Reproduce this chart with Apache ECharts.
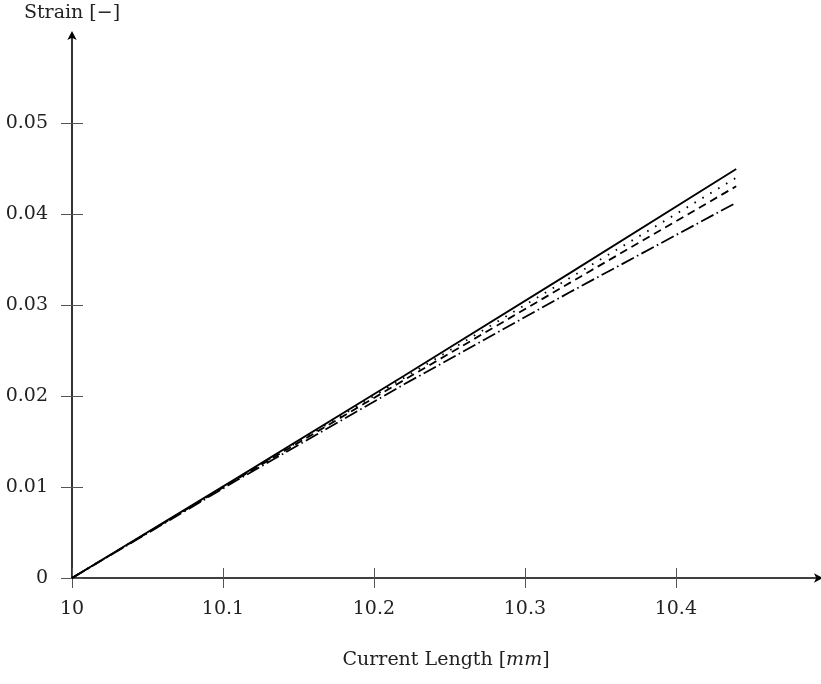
<!DOCTYPE html>
<html>
<head>
<meta charset="utf-8">
<script src="https://cdn.jsdelivr.net/npm/echarts@6/dist/echarts.min.js"></script>
<style>
  html, body { margin: 0; padding: 0; background: #fff; }
  #chart { width: 821px; height: 684px; }
</style>
</head>
<body>
<div id="chart"></div>
<script>
// Current length samples [mm]
const lengths = [10, 10.11, 10.22, 10.33, 10.44];

// Strain measures against current length
const strainSolid   = [0, 0.01106, 0.02224, 0.03354, 0.04497];
const strainDotted  = [0, 0.01100, 0.02200, 0.03300, 0.04400];
const strainDashed  = [0, 0.01094, 0.02176, 0.03247, 0.04306];
const strainDashDot = [0, 0.01082, 0.02129, 0.03144, 0.04126];

// Tick positions
const xTicks = [10, 10.1, 10.2, 10.3, 10.4];
const yTicks = [0, 0.01, 0.02, 0.03, 0.04, 0.05];

const X_MIN = 10, X_MAX = 10.4955;
const Y_MIN = 0, Y_MAX = 0.0598;

const FONT = '"DejaVu Serif", "Liberation Serif", serif';
const FONT_SIZE = 19;
const TEXT_COLOR = '#222';
const TICK_COLOR = '#555';

const GRID = { left: 72, right: 1, top: 34, bottom: 106 };
const gridW = 821 - GRID.left - GRID.right;
const gridH = 684 - GRID.top - GRID.bottom;

function pairs(xs, ys) {
  return xs.map((x, i) => [x, ys[i]]);
}

function fmtY(v) {
  return v === 0 ? '0' : String(+v.toFixed(2));
}

const chart = echarts.init(document.getElementById('chart'), null, { renderer: 'canvas' });

const lineBase = { type: 'line', showSymbol: false, symbol: 'none', smooth: false, silent: true, animation: false };

// tick-only helper axis laid over an edge of the plot
function tickAxis(min, max, position, offset, values, length, inside) {
  return {
    type: 'value', min: min, max: max, position: position, offset: offset,
    axisLine: { show: false },
    axisTick: { show: true, inside: inside, length: length, customValues: values,
      lineStyle: { color: TICK_COLOR, width: 1 } },
    axisLabel: { show: false },
    splitLine: { show: false }
  };
}

chart.setOption({
  animation: false,
  backgroundColor: '#fff',
  grid: GRID,
  xAxis: [
    {
      type: 'value', min: X_MIN, max: X_MAX, position: 'bottom',
      axisLine: { show: true, onZero: false, symbol: ['none', 'arrow'], symbolSize: [7, 9], symbolOffset: [0, 3],
        lineStyle: { color: '#000', width: 1.6 } },
      axisTick: { show: true, inside: false, length: 10, customValues: xTicks,
        lineStyle: { color: TICK_COLOR, width: 1 } },
      axisLabel: { show: true, customValues: xTicks, margin: 22,
        fontFamily: FONT, fontSize: FONT_SIZE, color: TEXT_COLOR,
        formatter: v => String(+v.toFixed(1)) },
      splitLine: { show: false },
      name: '{r|Current Length [}{i|mm}{r|]}',
      nameLocation: 'middle', nameGap: 73,
      nameTextStyle: {
        rich: {
          r: { fontFamily: FONT, fontSize: FONT_SIZE, color: TEXT_COLOR },
          i: { fontFamily: FONT, fontSize: FONT_SIZE, fontStyle: 'italic', color: TEXT_COLOR }
        }
      }
    },
    // upper half of the crossing ticks on the x axis
    tickAxis(X_MIN, X_MAX, 'top', -gridH, xTicks, 10, false),
    // lower half of the tick at the origin
    tickAxis(X_MIN, X_MAX, 'top', -gridH, [X_MIN], 10, true)
  ],
  yAxis: [
    {
      type: 'value', min: Y_MIN, max: Y_MAX, position: 'left',
      axisLine: { show: true, onZero: false, symbol: ['none', 'arrow'], symbolSize: [7, 9], symbolOffset: [0, 3],
        lineStyle: { color: '#000', width: 1.6 } },
      axisTick: { show: true, inside: false, length: 11, customValues: yTicks,
        lineStyle: { color: TICK_COLOR, width: 1 } },
      axisLabel: { show: true, customValues: yTicks, margin: 24,
        fontFamily: FONT, fontSize: FONT_SIZE, color: TEXT_COLOR, formatter: fmtY },
      splitLine: { show: false },
      name: 'Strain [−]',
      nameLocation: 'end', nameGap: 11,
      nameTextStyle: { fontFamily: FONT, fontSize: FONT_SIZE, color: TEXT_COLOR, align: 'center' }
    },
    // right half of the crossing ticks on the y axis
    tickAxis(Y_MIN, Y_MAX, 'right', -gridW, yTicks, 11, false),
    // left half of the tick at the origin
    tickAxis(Y_MIN, Y_MAX, 'right', -gridW, [Y_MIN], 11, true)
  ],
  series: [
    Object.assign({}, lineBase, {
      name: 'solid', data: pairs(lengths, strainSolid),
      lineStyle: { color: '#000', width: 1.8, type: 'solid' }
    }),
    Object.assign({}, lineBase, {
      name: 'dotted', data: pairs(lengths, strainDotted),
      lineStyle: { color: '#000', width: 1.8, type: [1.6, 7.6], cap: 'butt' }
    }),
    Object.assign({}, lineBase, {
      name: 'dashed', data: pairs(lengths, strainDashed),
      lineStyle: { color: '#000', width: 1.8, type: [8, 5] }
    }),
    Object.assign({}, lineBase, {
      name: 'dashdot', data: pairs(lengths, strainDashDot),
      lineStyle: { color: '#000', width: 1.8, type: [14, 3.5, 1.6, 3.5] }
    })
  ]
});
</script>
</body>
</html>
